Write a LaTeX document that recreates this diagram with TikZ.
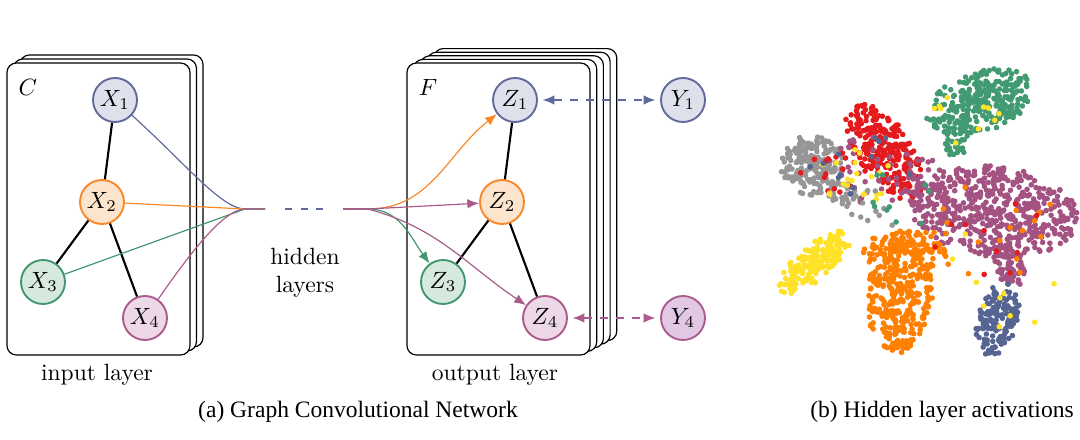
\documentclass[tikz,border=0pt]{standalone}
\usepackage{amsmath}
\usepackage{fontspec}
\newfontfamily\capfont{Liberation Serif}
\usetikzlibrary{arrows.meta, positioning}
\definecolor{gblue}{RGB}{95,105,155}
\definecolor{gbluefill}{RGB}{222,225,236}
\definecolor{gorange}{RGB}{250,135,40}
\definecolor{gorangefill}{RGB}{253,228,205}
\definecolor{ggreen}{RGB}{65,150,110}
\definecolor{ggreenfill}{RGB}{214,233,222}
\definecolor{gpurple}{RGB}{170,90,140}
\definecolor{gpurplefill}{RGB}{236,216,230}
\definecolor{gpurpledeep}{RGB}{226,200,226}
\definecolor{sred}{RGB}{228,26,28}
\definecolor{sgreen}{RGB}{66,154,114}
\definecolor{sgray}{RGB}{150,150,150}
\definecolor{spurple}{RGB}{163,82,130}
\definecolor{syellow}{RGB}{255,226,40}
\definecolor{sorange}{RGB}{255,127,0}
\definecolor{sblue}{RGB}{86,100,146}
\tikzstyle{vert}=[circle,draw,line width=0.8pt,minimum size=18.7pt,inner sep=0pt]
\tikzstyle{card}=[draw,fill=white,rounded corners=4pt,line width=0.5pt]
\tikzstyle{edge}=[line width=0.9pt]
\tikzstyle{flow}=[line width=0.5pt]
\tikzstyle{link}=[flow,dash pattern=on 3.4pt off 3.4pt,shorten <=2pt,shorten >=2pt]
% one cloud of dots: colour, centre x, centre y, half axes, rotation, count
\newcommand{\blob}[7]{%
  \begin{scope}[shift={(#2,#3)},rotate=#6]
    \foreach \i in {1,...,#7}{
      \pgfmathsetmacro{\blobr}{rnd^0.6}
      \pgfmathsetmacro{\bloba}{360*rnd}
      \fill[#1] ({#4*\blobr*cos(\bloba)},{#5*\blobr*sin(\bloba)}) circle (2.8);
    }
  \end{scope}}

\begin{document}
\begin{tikzpicture}[x=0.425pt,y=-0.425pt,>={Latex[length=5pt,width=4pt]}]
    \useasboundingbox (0,0) rectangle (1080,440);
    % input layer cards
    \foreach \k in {2,1,0}
        \draw[card] (7+6.5*\k,63-4*\k) rectangle (190+6.5*\k,355-4*\k);
    \node (clab) at (28,87) {$C$};
    \node[vert,draw=gblue,fill=gbluefill] (x1) at (115,100) {$X_1$};
    \node[vert,draw=gorange,fill=gorangefill] (x2) at (102,202) {$X_2$};
    \node[vert,draw=ggreen,fill=ggreenfill] (x3) at (43,282) {$X_3$};
    \node[vert,draw=gpurple,fill=gpurplefill] (x4) at (145,318) {$X_4$};
    \draw[edge] (x1) -- (x2);
    \draw[edge] (x2) -- (x3);
    \draw[edge] (x2) -- (x4);
    \node (inlab) at (97,375) {input layer};
    % hidden layers
    \coordinate (lm) at (245,209);
    \coordinate (lend) at (265,209);
    \coordinate (ld1) at (285,209);
    \coordinate (ld2) at (323,209);
    \coordinate (rs) at (343,209);
    \coordinate (rm) at (368,209);
    \draw[flow,gblue] (x1) to[out=-42,in=180,out distance=30pt,in distance=10pt] (lm) -- (lend);
    \draw[flow,gorange] (x2) -- (lm) -- (lend);
    \draw[flow,ggreen] (x3) -- (lm) -- (lend);
    \draw[flow,gpurple] (x4) to[out=55,in=180,out distance=18pt,in distance=10pt] (lm) -- (lend);
    \draw[flow,gblue,dash pattern=on 3pt off 3.6pt] (ld1) -- (ld2);
    \node[align=center] (hid) at (305,273) {hidden\\layers};
    % output layer cards
    \foreach \k in {4,3,2,1,0}
        \draw[card] (407+6.7*\k,63-3.6*\k) rectangle (590+6.7*\k,355-3.6*\k);
    \node (flab) at (428,87) {$F$};
    \node[vert,draw=gblue,fill=gbluefill] (z1) at (515,100) {$Z_1$};
    \node[vert,draw=gorange,fill=gorangefill] (z2) at (502,202) {$Z_2$};
    \node[vert,draw=ggreen,fill=ggreenfill] (z3) at (443,282) {$Z_3$};
    \node[vert,draw=gpurple,fill=gpurplefill] (z4) at (545,318) {$Z_4$};
    \draw[edge] (z1) -- (z2);
    \draw[edge] (z2) -- (z3);
    \draw[edge] (z2) -- (z4);
    \draw[flow,gorange,->] (rs) -- (rm) to[out=0,in=218] (z1);
    \draw[flow,ggreen,->] (rs) -- (rm) to[out=0,in=126] (z3);
    \draw[flow,gpurple,->] (rs) -- (rm) to[out=-15,in=146] (z4);
    \draw[flow,gpurple,->] (rs) -- (rm) -- (z2);
    \node (outlab) at (495,375) {output layer};
    % labels
    \node[vert,draw=gblue,fill=gbluefill] (y1) at (683,100) {$Y_1$};
    \node[vert,draw=gpurple,fill=gpurpledeep] (y4) at (683,318) {$Y_4$};
    \draw[link,gblue,<->] (z1) -- (y1);
    \draw[link,gpurple,<->] (z4) -- (y4);
    % hidden layer activations
    \pgfmathsetseed{7}
    \blob{sgreen}{980}{102}{56}{30}{18}{300}
    \blob{sgreen}{955}{140}{14}{17}{0}{35}
    \blob{sred}{884}{152}{55}{28}{-55}{260}
    \blob{sgray}{812}{165}{32}{30}{-20}{190}
    \blob{sgray}{845}{195}{20}{12}{-20}{35}
    \blob{spurple}{995}{212}{84}{46}{-5}{520}
    \blob{spurple}{1008}{265}{14}{30}{25}{70}
    \blob{spurple}{925}{185}{22}{27}{0}{60}
    \blob{syellow}{815}{262}{45}{17}{40}{190}
    \blob{sorange}{900}{292}{33}{62}{-5}{320}
    \blob{sorange}{905}{250}{44}{22}{0}{100}
    \blob{sblue}{997}{320}{21}{38}{-15}{150}
    % mixed dots
    \blob{syellow}{960}{120}{40}{30}{0}{10}
    \blob{spurple}{870}{170}{45}{35}{0}{35}
    \blob{sred}{830}{175}{30}{25}{0}{15}
    \blob{syellow}{860}{175}{40}{30}{0}{20}
    \blob{sblue}{860}{170}{50}{40}{0}{12}
    \blob{sorange}{990}{230}{70}{50}{0}{20}
    \blob{sred}{990}{235}{60}{45}{0}{10}
    \blob{sgray}{870}{215}{30}{30}{0}{10}
    \blob{sgreen}{900}{200}{40}{40}{0}{10}
    \blob{syellow}{1000}{280}{60}{60}{0}{10}
    % captions
    \node[font=\capfont] (capa) at (358,412) {(a) Graph Convolutional Network};
    \node[font=\capfont] (capb) at (942,412) {(b) Hidden layer activations};
\end{tikzpicture}
\end{document}
